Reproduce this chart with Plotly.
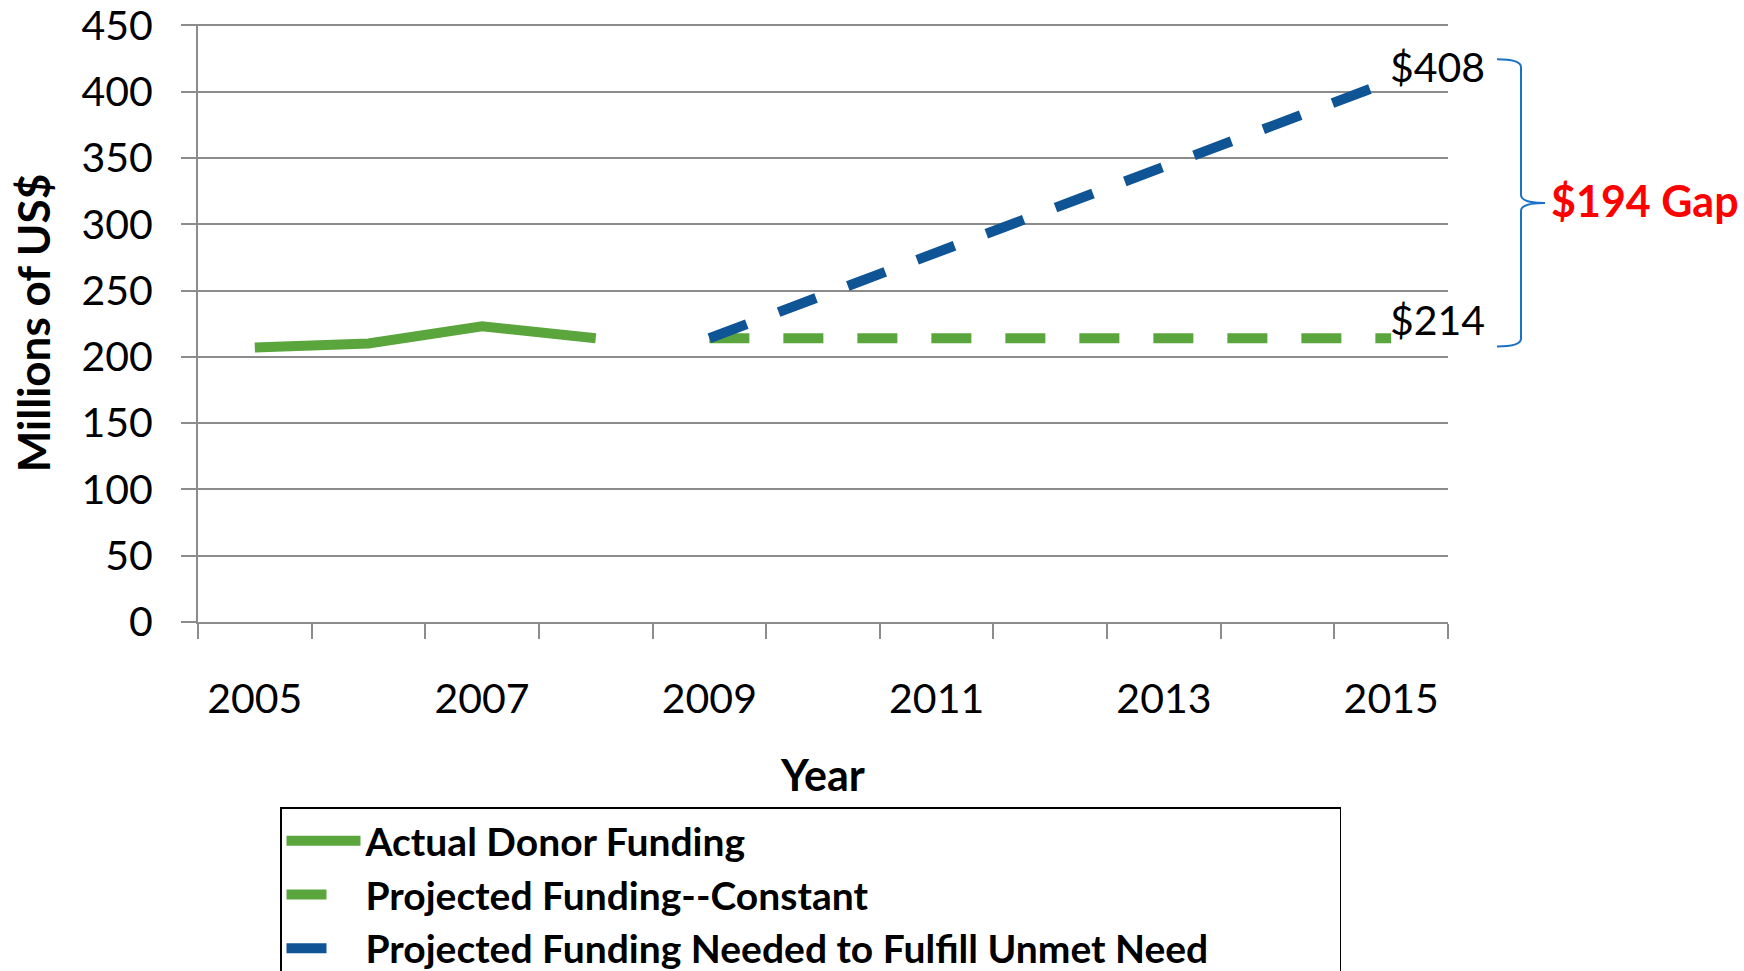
import plotly.graph_objects as go

# values (millions of US$)
actual_years = [2005, 2006, 2007, 2008]
actual_funding = [207, 210, 223, 214]

proj_years = [2009, 2010, 2011, 2012, 2013, 2014, 2015]
proj_constant = [214, 214, 214, 214, 214, 214, 214]
proj_needed = [214, 246, 279, 311, 343, 376, 408]

label_years = [2005, 2007, 2009, 2011, 2013, 2015]

GREEN = "#5AA63C"
BLUE = "#0F5494"
GRID = "#8C8C8C"
FONT = "Lato, 'Open Sans', sans-serif"
DASH = "40px,34px"

fig = go.Figure()
fig.add_trace(go.Scatter(
    x=actual_years, y=actual_funding, mode="lines",
    name="Actual Donor Funding",
    line=dict(color=GREEN, width=10),
))
fig.add_trace(go.Scatter(
    x=proj_years, y=proj_constant, mode="lines",
    name="Projected Funding--Constant",
    line=dict(color=GREEN, width=10, dash=DASH),
))
fig.add_trace(go.Scatter(
    x=proj_years, y=proj_needed, mode="lines",
    name="Projected Funding Needed to Fulfill Unmet Need",
    line=dict(color=BLUE, width=10, dash=DASH),
))

# end-point value labels
fig.add_annotation(x=0.952, xref="paper", y=proj_needed[-1] + 11, yref="y",
                   text="$" + str(proj_needed[-1]), showarrow=False,
                   xanchor="left", yanchor="middle",
                   font=dict(size=41, color="black", family=FONT))
fig.add_annotation(x=0.952, xref="paper", y=proj_constant[-1] + 14, yref="y",
                   text="$" + str(proj_constant[-1]), showarrow=False,
                   xanchor="left", yanchor="middle",
                   font=dict(size=41, color="black", family=FONT))

# brace marking the gap
gap = proj_needed[-1] - proj_constant[-1]
top, bot, mid = 424.4, 207.8, 316.0
x0, x1, x2 = 1.0392, 1.0584, 1.0776
brace = (f"M{x0},{top} Q{x1},{top} {x1},{top - 6} L{x1},{mid + 6} "
         f"Q{x1},{mid} {x2},{mid} Q{x1},{mid} {x1},{mid - 6} "
         f"L{x1},{bot + 6} Q{x1},{bot} {x0},{bot}")
fig.add_shape(type="path", path=brace, xref="paper", yref="y",
              line=dict(color="#1B72C4", width=2))
fig.add_annotation(x=1.0808, xref="paper", y=mid + 2, yref="y",
                   text=f"<b>${gap} Gap</b>", showarrow=False,
                   xanchor="left", yanchor="middle",
                   font=dict(size=43, color="#FF0000", family=FONT))

fig.update_xaxes(
    range=[2004.5, 2015.5],
    tickvals=label_years, ticks="", ticklabelstandoff=40,
    showgrid=False, zeroline=False,
    showline=True, linecolor=GRID, linewidth=2,
    tickfont=dict(size=41, color="black", family=FONT),
    minor=dict(ticks="outside", tick0=2004.5, dtick=1, ticklen=15,
               tickcolor=GRID, tickwidth=2, showgrid=False),
    title=dict(text="<b>Year</b>", standoff=40,
               font=dict(size=43, color="black", family=FONT)),
)
# top of range nudged so the 450 gridline is not clipped at the edge
fig.update_yaxes(
    range=[0, 451], tickvals=[0, 50, 100, 150, 200, 250, 300, 350, 400, 450],
    showgrid=True, gridcolor=GRID, gridwidth=2, zeroline=False,
    showline=True, linecolor=GRID, linewidth=2,
    ticks="outside", ticklen=15, tickcolor=GRID, tickwidth=2,
    ticklabelstandoff=20, ticklabeloverflow="allow",
    tickfont=dict(size=41, color="black", family=FONT),
    title=dict(text="<b>Millions of US$</b>", standoff=17,
               font=dict(size=44, color="black", family=FONT)),
)

fig.update_layout(
    width=1744, height=971,
    margin=dict(l=198, r=296, t=24, b=349, autoexpand=False),
    plot_bgcolor="white", paper_bgcolor="white",
    font=dict(family=FONT),
    showlegend=True,
    legend=dict(
        orientation="h", entrywidth=969, entrywidthmode="pixels",
        x=0.0656, xanchor="left", y=-0.31, yanchor="top",
        bordercolor="black", borderwidth=1.5, bgcolor="white",
        font=dict(size=39, color="black", family=FONT, weight="bold"),
        itemwidth=74, tracegroupgap=0,
    ),
)

fig.write_html("out.html", config={"displayModeBar": False},
               post_script="document.body.style.margin='0';")
